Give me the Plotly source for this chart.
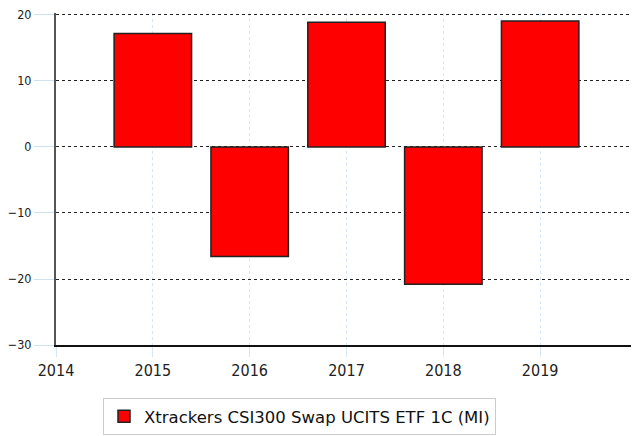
import plotly.graph_objects as go

years = [2015, 2016, 2017, 2018, 2019]
returns = [17.2, -16.6, 18.9, -20.8, 19.1]
series_name = "Xtrackers CSI300 Swap UCITS ETF 1C (MI)"
x_ticks = [2014, 2015, 2016, 2017, 2018, 2019]
y_ticks = [-30, -20, -10, 0, 10, 20]

fig = go.Figure()
fig.add_trace(go.Bar(
    x=years, y=returns, name=series_name, width=0.8,
    marker=dict(color="#ff0000", line=dict(color="#222222", width=1.5)),
    showlegend=True,
))

# page body has an 8px default margin, so the figure is sized/offset accordingly
fig.update_layout(
    width=631, height=428,
    margin=dict(l=48, r=2, t=5, b=91, autoexpand=False),
    paper_bgcolor="white", plot_bgcolor="white",
    font=dict(family="DejaVu Sans Condensed", size=12, color="#333333"),
    bargap=0.2,
    legend=dict(
        x=47 / 581, xanchor="left",
        y=(337 - 390) / 332, yanchor="top",
        bordercolor="#cccccc", borderwidth=1,
        font=dict(family="DejaVu Sans", size=16.5, color="#111111"),
        itemwidth=30,
    ),
    xaxis=dict(
        range=[2014, 2020], tickvals=x_ticks, ticktext=[str(t) for t in x_ticks],
        showgrid=True, gridcolor="#d6e6f5", griddash="dot", gridwidth=1,
        showline=True, linecolor="#111111", linewidth=2,
        ticks="outside", ticklen=10, tickcolor="#d6e6f5", tickwidth=1,
        zeroline=False,
        tickfont=dict(family="DejaVu Sans Condensed", size=16, color="#222222"),
    ),
    yaxis=dict(
        range=[-30, 20.3], tickvals=y_ticks,
        showgrid=True, gridcolor="#222222", griddash="dot", gridwidth=1,
        showline=True, linecolor="#555555", linewidth=2,
        ticks="outside", ticklen=20, tickcolor="#cfe2f3", tickwidth=1,
        zeroline=False, ticklabeloverflow="allow",
        tickfont=dict(family="DejaVu Sans Condensed", size=12.5, color="#222222"),
    ),
)

fig.write_html("out.html")
